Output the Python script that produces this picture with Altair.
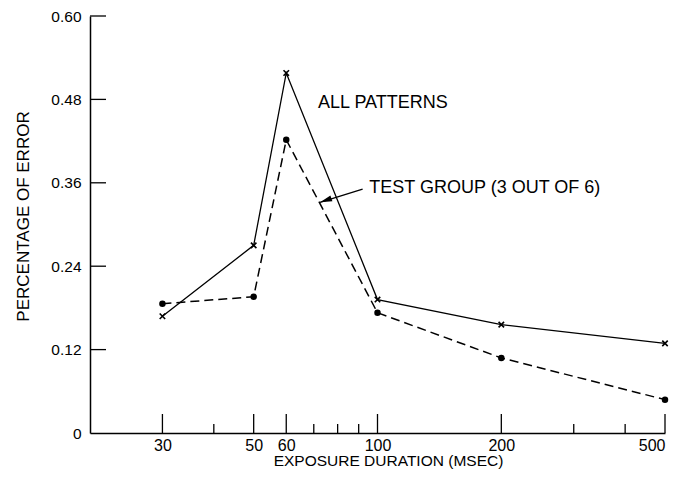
import altair as alt
import pandas as pd

# ---- data ----
durations = [30, 50, 60, 100, 200, 500]
all_patterns = [0.168, 0.270, 0.518, 0.192, 0.156, 0.129]
test_group = [0.186, 0.196, 0.422, 0.173, 0.108, 0.048]

x_major_ticks = [30, 50, 60, 100, 200, 500]
x_minor_ticks = [40, 70, 80, 90, 300, 400]
y_ticks = [0.12, 0.24, 0.36, 0.48, 0.60]
y_labels = [0, 0.12, 0.24, 0.36, 0.48, 0.60]

x_title = "EXPOSURE DURATION (MSEC)"
y_title = "PERCENTAGE OF ERROR"
label_all = "ALL PATTERNS"
label_test = "TEST GROUP (3 OUT OF 6)"

FONT = "Liberation Sans"
W, H = 575, 417

df_all = pd.DataFrame({"x": durations, "y": all_patterns})
df_test = pd.DataFrame({"x": durations, "y": test_group})
df_xmaj = pd.DataFrame({"x": x_major_ticks})
df_xmin = pd.DataFrame({"x": x_minor_ticks})
df_yt = pd.DataFrame({"y": y_ticks})

x_enc = alt.X(
    "x:Q",
    scale=alt.Scale(type="log", domain=[20, 500], nice=False),
    axis=alt.Axis(
        title=x_title, values=x_major_ticks, format="d", grid=False,
        ticks=False, tickSize=0, labelPadding=4, labelFlush=True,
        labelOverlap=False, labelBound=False, labelFont=FONT, labelFontSize=16,
        labelColor="black", domainColor="black", domainWidth=1.5,
        titleFont=FONT, titleFontSize=15.5, titleFontWeight="normal",
        titleColor="black", titleX=298, titleY=27.5, titleBaseline="middle",
        titleAlign="center",
    ),
)
y_enc = alt.Y(
    "y:Q",
    scale=alt.Scale(domain=[0, 0.6], nice=False, zero=True),
    axis=alt.Axis(
        title=y_title, values=y_labels, grid=False, ticks=False, tickSize=0,
        labelPadding=9, labelFont=FONT, labelFontSize=15.5, labelColor="black",
        labelExpr="datum.value == 0 ? '0' : format(datum.value, '.2f')",
        labelFlush=False, labelOverlap=False, labelBound=False,
        domainColor="black", domainWidth=1.5,
        titleFont=FONT, titleFontSize=17, titleFontWeight="normal",
        titleColor="black", titleAngle=-90, titleX=-67, titleY=200,
        titleBaseline="middle", titleAlign="center",
    ),
)

line_all = alt.Chart(df_all).mark_line(color="black", strokeWidth=1.3).encode(x=x_enc, y=y_enc)
line_test = alt.Chart(df_test).mark_line(
    color="black", strokeWidth=1.5, strokeDash=[9, 5]
).encode(x=x_enc, y=y_enc)

pts_all = alt.Chart(df_all).mark_point(
    shape="M-1,-1L1,1M-1,1L1,-1", filled=False, stroke="black",
    strokeWidth=1.6, size=30, opacity=1
).encode(x=x_enc, y=y_enc)
pts_test = alt.Chart(df_test).mark_point(
    shape="circle", filled=True, color="black", size=42, opacity=1
).encode(x=x_enc, y=y_enc)

xmaj = alt.Chart(df_xmaj).mark_rule(color="black", strokeWidth=1.3).encode(
    x=x_enc, y=alt.value(H), y2=alt.value(H - 19)
)
xmin = alt.Chart(df_xmin).mark_rule(color="black", strokeWidth=1.3).encode(
    x=x_enc, y=alt.value(H), y2=alt.value(H - 9)
)
yt = alt.Chart(df_yt).mark_rule(color="black", strokeWidth=1.3).encode(
    y=y_enc, x=alt.value(0), x2=alt.value(16)
)

# annotations
ann_text = pd.DataFrame({
    "x": [71.7, 95.5],
    "y": [0.475, 0.352],
    "t": [label_all, label_test],
})
texts = alt.Chart(ann_text).mark_text(
    align="left", baseline="middle", font=FONT, fontSize=18, color="black"
).encode(x=x_enc, y=y_enc, text="t:N")

arrow_df = pd.DataFrame({"x": [92.0], "y": [0.351], "x2": [72.5], "y2": [0.332]})
arrow_line = alt.Chart(arrow_df).mark_rule(color="black", strokeWidth=1.3).encode(
    x=x_enc, y=y_enc, x2="x2:Q", y2="y2:Q"
)
head_df = pd.DataFrame({"x": [72.5], "y": [0.332]})
arrow_head = alt.Chart(head_df).mark_point(
    shape="M0,0L-0.5,2L0.5,2Z", filled=True, color="black", size=144,
    angle=251, opacity=1
).encode(x=x_enc, y=y_enc)

chart = alt.layer(
    xmaj, xmin, yt, line_all, line_test, pts_all, pts_test, texts, arrow_line, arrow_head
).properties(
    width=W, height=H,
    autosize=alt.AutoSizeParams(type="none"),
    padding={"left": 82, "top": 8, "right": 4, "bottom": 37},
    background="white",
).configure_view(stroke=None)

chart.save("out.html", embed_options={"renderer": "svg", "actions": False})
